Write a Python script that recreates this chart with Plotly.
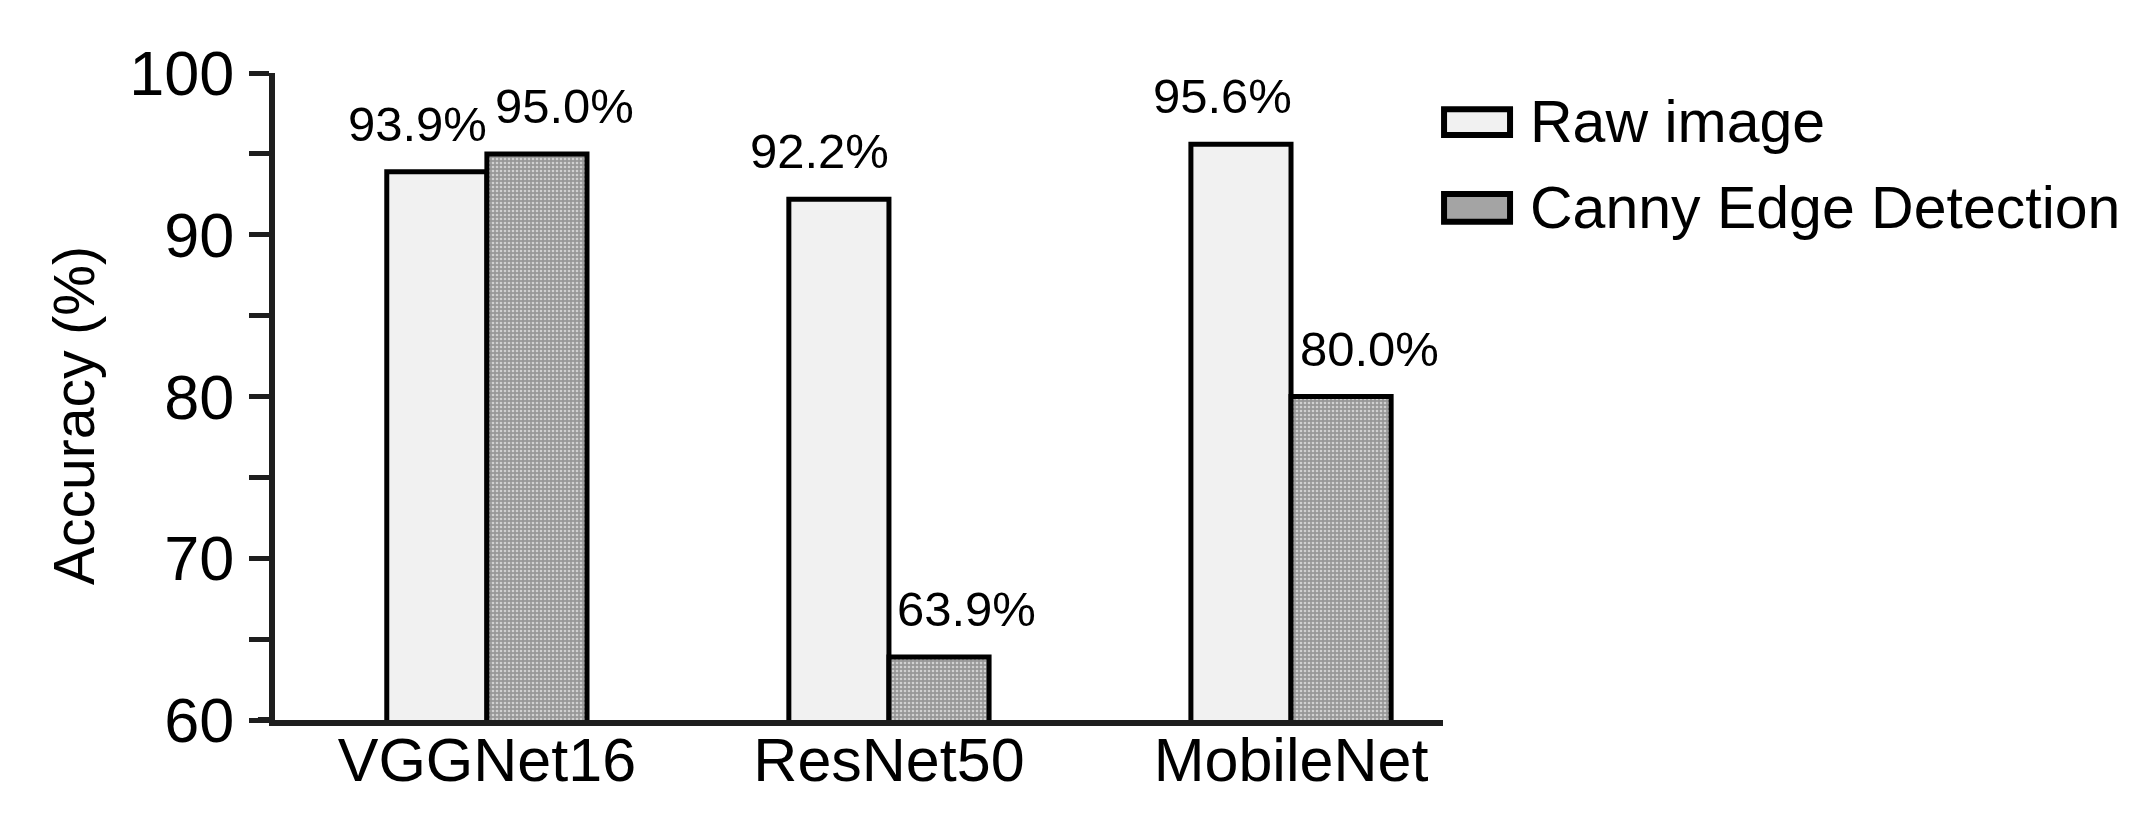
import plotly.graph_objects as go

# data
models = ['VGGNet16', 'ResNet50', 'MobileNet']
raw_acc = [93.9, 92.2, 95.6]
canny_acc = [95.0, 63.9, 80.0]
series_names = ['Raw image', 'Canny Edge Detection']
y_ticks = [60, 70, 80, 90, 100]

FONT = 'Liberation Sans, Arial, sans-serif'
INK = '#1e1e1e'

fig = go.Figure()
fig.add_trace(go.Bar(
    x=models, y=raw_acc, name=series_names[0],
    marker=dict(color='#f1f1f1', line=dict(color='black', width=5)),
))
fig.add_trace(go.Bar(
    x=models, y=canny_acc, name=series_names[1],
    marker=dict(color='#a4a4a4', line=dict(color='black', width=5),
                pattern=dict(shape='.', fillmode='replace', bgcolor='#979797',
                             fgcolor='#d0d0d0', size=4, solidity=0.35)),
))

# value labels above bars
annotations = []
for vals, shift in [(raw_acc, -69), (canny_acc, 78)]:
    for m, v in zip(models, vals):
        annotations.append(dict(x=m, y=v, xref='x', yref='y', text='%.1f%%' % v,
                                showarrow=False, yanchor='bottom', xshift=shift, yshift=19,
                                font=dict(family=FONT, size=49, color='black')))

# y axis title
annotations.append(dict(x=-0.172, y=0.47, xref='paper', yref='paper', text='Accuracy (%)',
                        textangle=-90, showarrow=False, xanchor='center', yanchor='middle',
                        font=dict(family=FONT, size=57, color='black')))

# hand-made legend (plotly's own legend swatches are too small)
legend_boxes = [(0.904, 0.944, '#f1f1f1'), (0.770, 0.813, '#a4a4a4')]
shapes = []
for (y0, y1, col), name in zip(legend_boxes, series_names):
    shapes.append(dict(type='rect', xref='paper', yref='paper', x0=1.0009, x1=1.0574,
                       y0=y0, y1=y1, fillcolor=col, line=dict(color='black', width=6)))
    annotations.append(dict(x=1.0728, y=(y0 + y1) / 2, xref='paper', yref='paper', text=name,
                            showarrow=False, xanchor='left', yanchor='middle',
                            font=dict(family=FONT, size=59, color='black')))

# x axis stub to the left of the y axis
shapes.append(dict(type='line', xref='paper', yref='paper', x0=-0.0146, x1=0, y0=0, y1=0,
                   line=dict(color=INK, width=6)))

# margins account for the 8px page body margin
fig.update_layout(
    width=2154, height=836,
    margin=dict(l=267, r=719, t=65, b=124),
    paper_bgcolor='white', plot_bgcolor='white',
    barmode='group', bargap=0.502, bargroupgap=0,
    showlegend=False,
    annotations=annotations,
    shapes=shapes,
    font=dict(family=FONT, color='black'),
    xaxis=dict(range=[-0.527, 2.378], showline=True, linecolor=INK, linewidth=6,
               ticks='', ticklabelstandoff=-18, tickfont=dict(family=FONT, size=61, color='black'),
               showgrid=False, zeroline=False, fixedrange=True),
    yaxis=dict(range=[60, 100], tickvals=y_ticks, showline=True, linecolor=INK, linewidth=6,
               ticks='outside', ticklen=20, tickwidth=5, tickcolor=INK,
               minor=dict(dtick=5, ticks='outside', ticklen=20, tickwidth=5, tickcolor=INK),
               ticklabelstandoff=2, tickfont=dict(family=FONT, size=63, color='black'),
               showgrid=False, zeroline=False, fixedrange=True),
)

fig.write_html('out.html')
